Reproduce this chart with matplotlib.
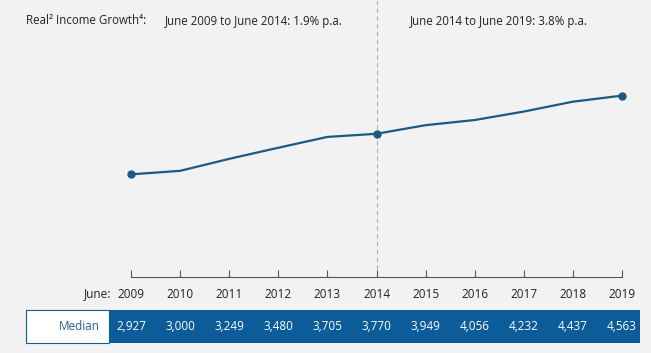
import matplotlib.pyplot as plt
import matplotlib.transforms as mtransforms
from matplotlib.patches import Rectangle

plt.rcParams['font.family'] = ['Open Sans', 'DejaVu Sans']

years = [2009, 2010, 2011, 2012, 2013, 2014, 2015, 2016, 2017, 2018, 2019]
median = [2927, 3000, 3249, 3480, 3705, 3770, 3949, 4056, 4232, 4437, 4563]
marked_years = [2009, 2014, 2019]
growth_left = "June 2009 to June 2014: 1.9% p.a."
growth_right = "June 2014 to June 2019: 3.8% p.a."

W, H = 651, 353
bg = '#f2f2f2'
line_col = '#1d5a82'
blue = '#0b5c99'

fig = plt.figure(figsize=(W / 100, H / 100), dpi=100, facecolor=bg)
ax = fig.add_axes([131 / W, (H - 277) / H, (622 - 131) / W, 277 / H])
ax.set_facecolor(bg)

ax.plot(years, median, color=line_col, lw=1.6, zorder=3, clip_on=False)
mk = [median[years.index(y)] for y in marked_years]
ax.plot(marked_years, mk, 'o', color=line_col, ms=5, zorder=4, clip_on=False)
ax.axvline(2014, color='#b0b0b0', lw=0.8, ls=(0, (4, 3)), zorder=1)

ax.set_xlim(2009, 2019)
ax.set_ylim(794, 6550)
for s in ['top', 'right', 'left']:
    ax.spines[s].set_visible(False)
ax.spines['bottom'].set_color('#555555')
ax.spines['bottom'].set_linewidth(0.8)
ax.set_yticks([])
ax.set_xticks(years)
ax.set_xticklabels([str(y) for y in years])
ax.tick_params(axis='x', direction='in', length=5, width=0.8, color='#555555',
               labelsize=8.5, labelcolor='#222222', pad=8)

fig.text(111 / W, (H - 294) / H, 'June:', ha='right', va='center', fontsize=8.5, color='#222222')

# header text
hy = (H - 21) / H
fig.text(26 / W, hy, 'Real² Income Growth⁴:', ha='left', va='center', fontsize=8.3, color='#222222')
fig.text(165 / W, hy, growth_left, ha='left', va='center', fontsize=8.3, color='#222222')
fig.text(410 / W, hy, growth_right, ha='left', va='center', fontsize=8.3, color='#222222')

# table row
y0, y1 = (H - 343) / H, (H - 310) / H
fig.patches.append(Rectangle((26 / W, y0), (109 - 26) / W, y1 - y0, transform=fig.transFigure,
                             facecolor='white', edgecolor=blue, lw=0.8, zorder=1))
fig.patches.append(Rectangle((109 / W, y0), (640 - 109) / W, y1 - y0, transform=fig.transFigure,
                             facecolor=blue, edgecolor='none', zorder=1))
fig.text(100 / W, (y0 + y1) / 2, 'Median', ha='right', va='center', fontsize=8.5, color='#2a5f8f')
trans = mtransforms.blended_transform_factory(ax.transData, fig.transFigure)
for yr, v in zip(years, median):
    fig.text(yr, (y0 + y1) / 2, f'{v:,}', transform=trans, ha='center', va='center',
             fontsize=8.5, color='white', zorder=5)

fig.savefig('out.png', dpi=100, facecolor=bg)
